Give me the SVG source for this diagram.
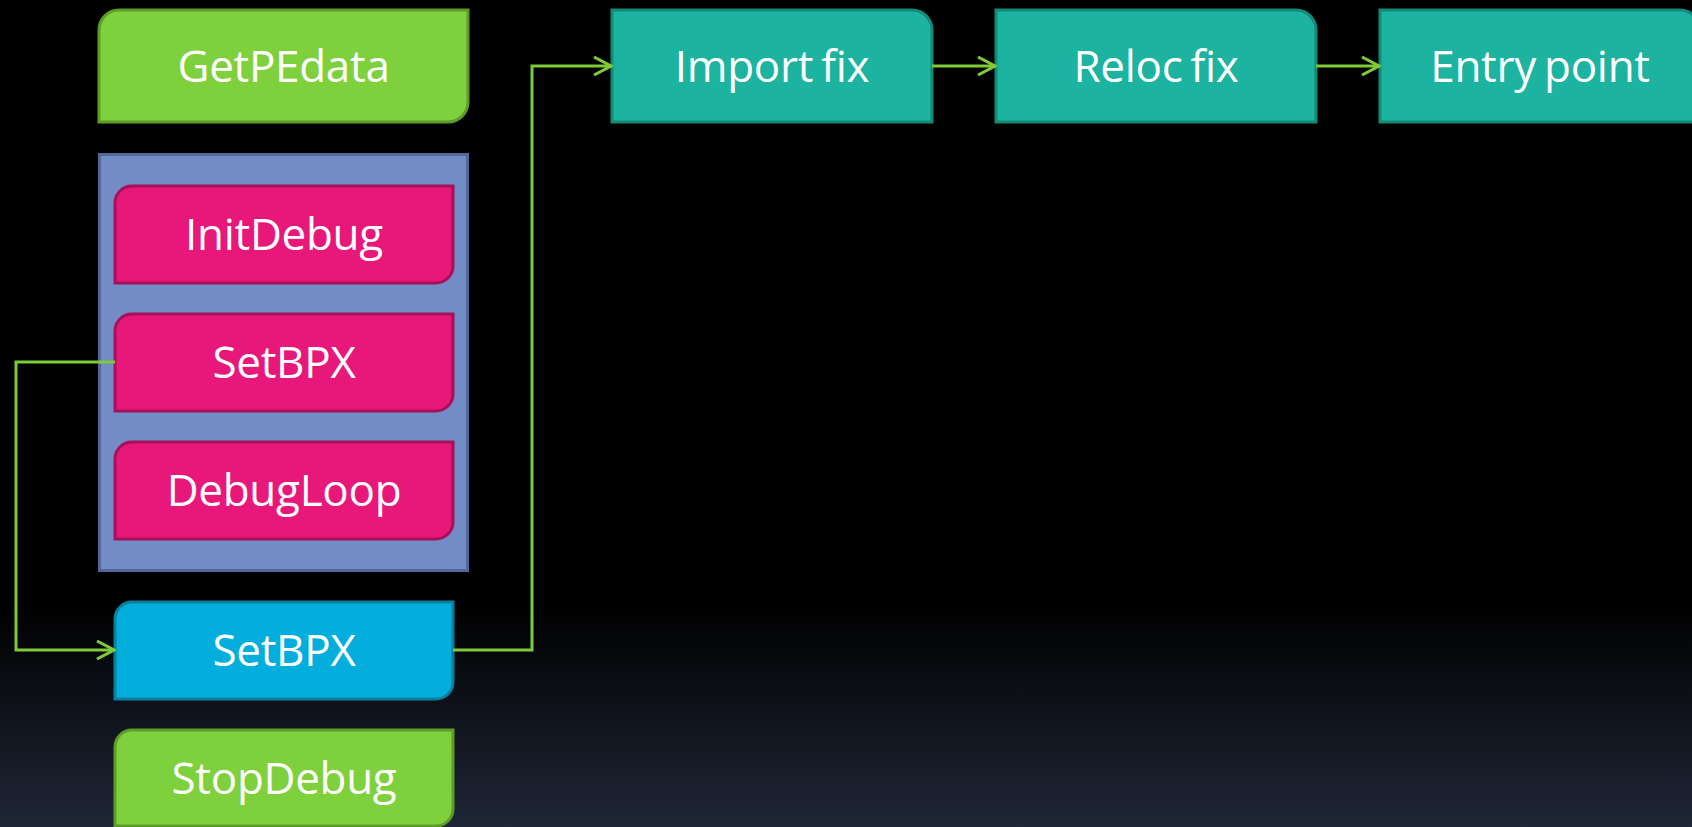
<svg xmlns="http://www.w3.org/2000/svg" width="1692" height="827" viewBox="0 0 1692 827">
  <defs>
    <linearGradient id="bg" x1="0" y1="0" x2="0" y2="1">
      <stop offset="0" stop-color="#000000"/>
      <stop offset="0.73" stop-color="#000000"/>
      <stop offset="1" stop-color="#1f2637"/>
    </linearGradient>
    <marker id="arr" viewBox="0 0 20 20" refX="18" refY="10" markerWidth="20" markerHeight="20" markerUnits="userSpaceOnUse" orient="auto">
      <path d="M1,1 L18,10 L1,19" fill="none" stroke="#7dcb3a" stroke-width="3"/>
    </marker>
    <style>
      .lbl { font-family: "Open Sans", "Noto Sans", "Liberation Sans", sans-serif; font-size: 44px; fill: #ffffff; text-anchor: middle; letter-spacing: -0.3px; word-spacing: -3px; }
      .green { fill: #7ed13c; stroke: #5e9c2a; stroke-width: 3; }
      .pink { fill: #e8177a; stroke: #a8105a; stroke-width: 3; }
      .blue { fill: #03aedd; stroke: #0a7fa0; stroke-width: 3; }
      .teal { fill: #1cb3a0; stroke: #138a78; stroke-width: 3; }
      .frame { fill: #728cc6; stroke: #54679a; stroke-width: 3; }
      .conn { fill: none; stroke: #7dcb3a; stroke-width: 3; }
    </style>
  </defs>

  <rect x="0" y="0" width="1692" height="827" fill="url(#bg)"/>

  <g id="getpedata">
    <path class="green" d="M119,10 H468 V102 A20,20 0 0 1 448,122 H99 V30 A20,20 0 0 1 119,10 Z"/>
    <text class="lbl" x="283.5" y="82">GetPEdata</text>
  </g>

  <g id="debug-group">
    <rect class="frame" x="99.5" y="154.5" width="368" height="416"/>
  </g>

  <g id="initdebug">
    <path class="pink" d="M132,186 H453 V266 A17,17 0 0 1 436,283 H115 V203 A17,17 0 0 1 132,186 Z"/>
    <text class="lbl" x="284" y="249.5">InitDebug</text>
  </g>

  <g id="setbpx-1">
    <path class="pink" d="M132,314 H453 V394 A17,17 0 0 1 436,411 H115 V331 A17,17 0 0 1 132,314 Z"/>
    <text class="lbl" x="284" y="377.5">SetBPX</text>
  </g>

  <g id="debugloop">
    <path class="pink" d="M132,442 H453 V522 A17,17 0 0 1 436,539 H115 V459 A17,17 0 0 1 132,442 Z"/>
    <text class="lbl" x="284" y="505.5">DebugLoop</text>
  </g>

  <g id="setbpx-2">
    <path class="blue" d="M132,602 H453 V682 A17,17 0 0 1 436,699 H115 V619 A17,17 0 0 1 132,602 Z"/>
    <text class="lbl" x="284" y="665.5">SetBPX</text>
  </g>

  <g id="stopdebug">
    <path class="green" d="M132,730 H453 V809 A17,17 0 0 1 436,826 H115 V747 A17,17 0 0 1 132,730 Z"/>
    <text class="lbl" x="284" y="794">StopDebug</text>
  </g>

  <g id="import-fix">
    <path class="teal" d="M612,10 H912 A20,20 0 0 1 932,30 V122 H612 Z"/>
    <text class="lbl" x="772" y="82">Import fix</text>
  </g>

  <g id="reloc-fix">
    <path class="teal" d="M996,10 H1296 A20,20 0 0 1 1316,30 V122 H996 Z"/>
    <text class="lbl" x="1156" y="82">Reloc fix</text>
  </g>

  <g id="entry-point">
    <path class="teal" d="M1380,10 H1680 A20,20 0 0 1 1700,30 V122 H1380 Z"/>
    <text class="lbl" x="1540" y="82">Entry point</text>
  </g>

  <g id="connectors">
    <path class="conn" d="M115,362 H16 V650 H114" marker-end="url(#arr)"/>
    <path class="conn" d="M453,650 H532 V66 H611" marker-end="url(#arr)"/>
    <path class="conn" d="M932,66 H995" marker-end="url(#arr)"/>
    <path class="conn" d="M1316,66 H1379" marker-end="url(#arr)"/>
  </g>
</svg>
